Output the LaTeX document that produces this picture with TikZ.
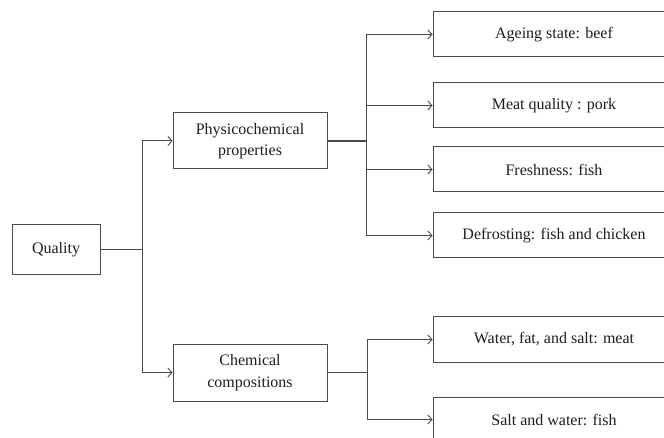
\documentclass[tikz,border=0pt]{standalone}
\usepackage{fontspec}
\setmainfont{Liberation Serif}
\usetikzlibrary{arrows.meta}
\definecolor{ln}{HTML}{4A4A4A}
\definecolor{tx}{HTML}{1E1E1E}
\begin{document}
\begin{tikzpicture}[x=1pt,y=-1pt,
  box/.style={draw=ln,line width=1pt,text=tx,align=center,inner sep=0pt,font=\fontsize{16}{21.5}\selectfont},
  conn/.style={draw=ln,line width=1pt},
  arr/.style={conn,-{Straight Barb[length=4pt,width=9pt,line width=0.9pt]}}]
\useasboundingbox (0,0) rectangle (664,438);
\fill[white] (0,0) rectangle (664,438);
\node[box,minimum width=88pt,minimum height=50pt] (q) at (56,250) {Quality};
\node[box,minimum width=154pt,minimum height=56pt] (p) at (250,141) {Physicochemical\\properties};
\node[box,minimum width=154pt,minimum height=57pt] (c) at (250,372.5) {Chemical\\compositions};
\node[box,minimum width=242pt,minimum height=45pt] (a) at (554,34.5) {Ageing state: beef};
\node[box,minimum width=242pt,minimum height=45pt] (m) at (554,105.5) {Meat quality : pork};
\node[box,minimum width=242pt,minimum height=45pt] (f) at (554,169.5) {Freshness: fish};
\node[box,minimum width=242pt,minimum height=45pt] (d) at (554,235.5) {Defrosting: fish and chicken};
\node[box,minimum width=242pt,minimum height=45pt] (w) at (554,339.5) {Water, fat, and salt: meat};
\node[box,minimum width=242pt,minimum height=45pt] (s) at (554,419.5) {Salt and water: fish};
\coordinate (j1) at (142,250);
\coordinate (j2) at (366,141);
\coordinate (j3) at (367,372.5);
\draw[conn] (q.east) -- (j1);
\draw[arr] (j1) |- (p.west);
\draw[arr] (j1) |- (c.west);
\draw[conn,line width=1.5pt] (p.east) -- (j2);
\draw[arr] (j2) |- (a.west);
\draw[arr] (j2) |- (m.west);
\draw[arr] (j2) |- (f.west);
\draw[arr] (j2) |- (d.west);
\draw[conn,line width=1.5pt] (c.east) -- (j3);
\draw[arr] (j3) |- (w.west);
\draw[arr] (j3) |- (s.west);
\end{tikzpicture}
\end{document}
